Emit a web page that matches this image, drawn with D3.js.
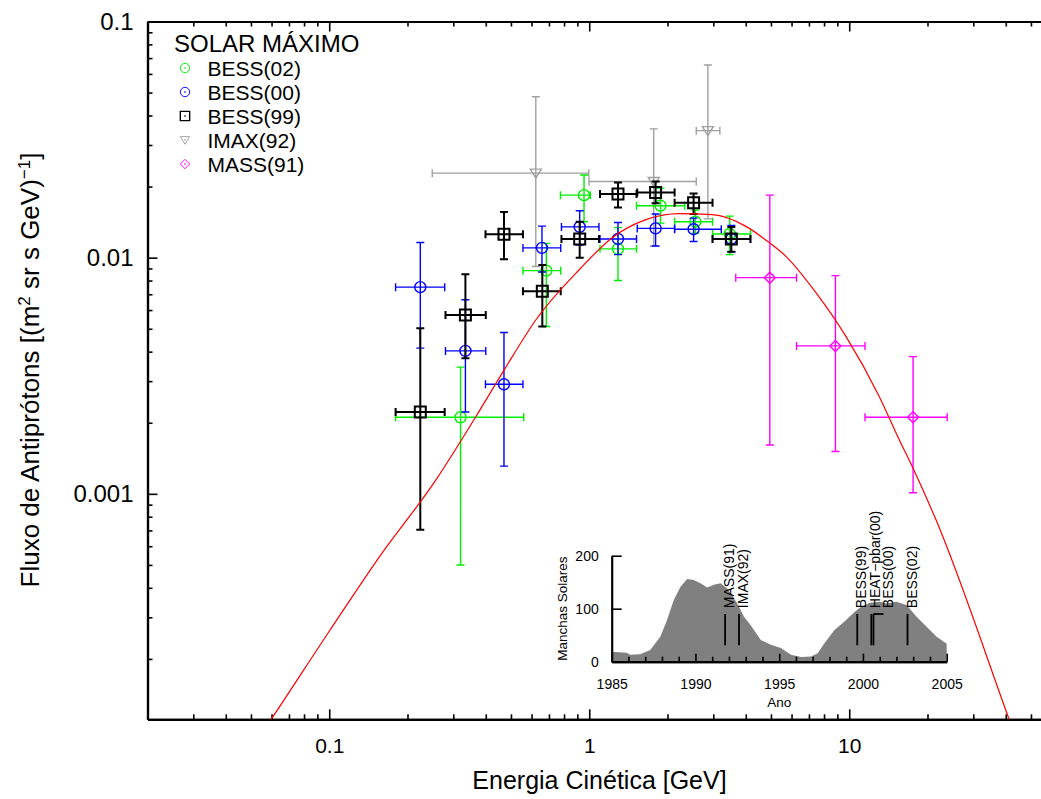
<!DOCTYPE html>
<html><head><meta charset="utf-8">
<script src="https://cdn.jsdelivr.net/npm/d3@7"></script>
<style>
body{margin:0;background:#fff}
text{font-family:"Liberation Sans",Arial,Helvetica,sans-serif;fill:#000}
</style>
</head><body>
<svg id="c" width="1041" height="799" xmlns="http://www.w3.org/2000/svg"></svg>
<script>
// ---------- DATA ----------
// each row: [energy, flux, energyLow, energyHigh, fluxLow, fluxHigh]
const bess02 = [
  [0.32, 0.00211, 0.18, 0.56, 0.0005, 0.00344],
  [0.684, 0.00881, 0.556, 0.777, 0.00511, 0.0115],
  [0.955, 0.0184, 0.775, 1.01, 0.0142, 0.0224],
  [1.29, 0.0109, 1.10, 1.52, 0.0080, 0.0134],
  [1.88, 0.0166, 1.52, 2.33, 0.0140, 0.0197],
  [2.56, 0.0142, 2.13, 2.98, 0.0127, 0.0159],
  [3.47, 0.0126, 2.98, 4.17, 0.0103, 0.0150]
];
const bess00 = [
  [0.224, 0.0075, 0.180, 0.278, 0.00414, 0.0116],
  [0.334, 0.00403, 0.280, 0.400, 0.00222, 0.00663],
  [0.470, 0.00291, 0.399, 0.556, 0.00131, 0.00482],
  [0.658, 0.0110, 0.556, 0.777, 0.0087, 0.0136],
  [0.919, 0.0135, 0.782, 1.09, 0.0113, 0.0158],
  [1.29, 0.0120, 1.10, 1.52, 0.0103, 0.0141],
  [1.80, 0.0133, 1.53, 2.13, 0.0112, 0.0153],
  [2.52, 0.0132, 2.13, 3.22, 0.0117, 0.0147],
  [3.52, 0.0120, 2.98, 4.17, 0.0106, 0.0137]
];
const bess99 = [
  [0.224, 0.00222, 0.180, 0.278, 0.000704, 0.00503],
  [0.334, 0.00572, 0.280, 0.400, 0.00375, 0.00851],
  [0.470, 0.01257, 0.399, 0.556, 0.00985, 0.0156],
  [0.660, 0.0072, 0.556, 0.777, 0.00511, 0.00932],
  [0.919, 0.0120, 0.782, 1.09, 0.0100, 0.0142],
  [1.29, 0.0186, 1.10, 1.52, 0.0163, 0.0208],
  [1.80, 0.0189, 1.53, 2.13, 0.0170, 0.0210],
  [2.52, 0.0171, 2.13, 2.98, 0.0153, 0.0187],
  [3.52, 0.0120, 2.98, 4.17, 0.0106, 0.0135]
];
const imax92 = [
  [0.623, 0.0228, 0.249, 0.996, 0.00917, 0.048],
  [1.77, 0.021, 0.998, 2.58, 0.0112, 0.0351],
  [2.86, 0.0345, 2.58, 3.18, 0.0146, 0.0654]
];
const mass91 = [
  [4.95, 0.00823, 3.66, 6.27, 0.00161, 0.0184],
  [8.85, 0.00423, 6.27, 11.5, 0.00151, 0.00839],
  [17.6, 0.00211, 11.5, 23.8, 0.00101, 0.00381]
];
// model curve
const curveEnergy = [0.05, 0.0598, 0.1, 0.1557, 0.2573, 0.3666, 0.471, 0.624, 0.915, 1.226, 1.652, 2.218, 2.972, 4.006, 4.923, 5.707, 7.446, 9.712, 13.04, 15.57, 17.47, 21.56, 41.2, 45];
const curveFlux   = [8.3e-5, 1.11e-4, 2.62e-4, 5.4e-4, 1.146e-3, 2.126e-3, 3.35e-3, 5.46e-3, 8.89e-3, 0.01215, 0.01449, 0.01536, 0.0152, 0.01357, 0.01158, 0.01013, 7.11e-3, 4.64e-3, 2.584e-3, 1.694e-3, 1.305e-3, 7.76e-4, 1.11e-4, 8.5e-5];
// axis ticks
const xMajorTicks = [0.1, 1, 10];
const yMajorTicks = [0.1, 0.01, 0.001];
const legendTitle = "SOLAR MÁXIMO";
const legendLabels = ["BESS(02)", "BESS(00)", "BESS(99)", "IMAX(92)", "MASS(91)"];
// inset: sunspot numbers
const ssYears  = [1985.0,1985.9,1986.1,1986.7,1987.3,1987.9,1988.3,1988.7,1989.1,1989.5,1989.9,1990.3,1990.7,1991.1,1991.5,1991.9,1992.5,1992.9,1993.3,1993.9,1994.5,1995.1,1995.7,1996.3,1996.9,1997.3,1997.7,1998.3,1998.9,1999.4,1999.8,2000.4,2001.0,2001.4,2002.0,2002.6,2003.2,2003.8,2004.4,2005.0];
const ssValues = [19,17,13,14,22,47,78,116,141,156,154,148,140,145,148,138,110,85,69,41,32,26,13,9,10,16,35,60,76,91,102,111,113,110,113,107,85,66,47,34];
const flightNames = ["MASS(91)", "IMAX(92)", "BESS(99)", "HEAT\u2212pbar(00)", "BESS(00)", "BESS(02)"];
const flightYears = [1991.77, 1992.6, 1999.66, 2000.5, 2000.63, 2002.66];
const flightLabelYears = [1991.77, 1992.6, 1999.66, 2000.5, 2001.23, 2002.66];
const insetYearTicks = [1985, 1990, 1995, 2000, 2005];
const insetValueTicks = [0, 100, 200];

// ---------- SCALES ----------
const svg = d3.select("#c");
const L = 147.5, T = 21.5, B = 719.3, DEC = 260;
const x = d3.scaleLog().domain([0.02, 60]).range([L, L + DEC * Math.log10(3000)]);
const y = d3.scaleLog().domain([1.11e-4, 0.1]).range([B, T]);

svg.append("defs").append("clipPath").attr("id", "plotclip")
  .append("rect").attr("x", L).attr("y", T).attr("width", 1100).attr("height", B - T);

// ---------- AXES ----------
const minorX = x.ticks().filter(v => !xMajorTicks.some(m => Math.abs(m - v) < 1e-9));
const minorY = y.ticks().filter(v => !yMajorTicks.some(m => Math.abs(m - v) / m < 1e-6));

function styleAxis(g, fs) {
  g.select(".domain").attr("stroke", "#000").attr("stroke-width", 2.2);
  g.selectAll(".tick line").attr("stroke", "#000").attr("stroke-width", 1.6);
  g.selectAll(".tick text").style("font-size", fs + "px").attr("fill", "#000");
  g.attr("font-family", null).attr("font-size", null);
}
// bottom
svg.append("g").attr("transform", `translate(0,${B})`)
  .call(d3.axisBottom(x).tickValues(minorX).tickSize(-5).tickSizeOuter(0).tickFormat(""))
  .call(g => styleAxis(g, 20));
svg.append("g").attr("transform", `translate(0,${B})`)
  .call(d3.axisBottom(x).tickValues(xMajorTicks).tickSize(-10).tickSizeOuter(0).tickPadding(19).tickFormat(d3.format("~g")))
  .call(g => styleAxis(g, 21));
// top
svg.append("g").attr("transform", `translate(0,${T})`)
  .call(d3.axisTop(x).tickValues(minorX).tickSize(-5).tickSizeOuter(0).tickFormat(""))
  .call(g => styleAxis(g, 20));
svg.append("g").attr("transform", `translate(0,${T})`)
  .call(d3.axisTop(x).tickValues(xMajorTicks).tickSize(-10).tickSizeOuter(0).tickFormat(""))
  .call(g => styleAxis(g, 20));
// left
svg.append("g").attr("transform", `translate(${L},0)`)
  .call(d3.axisLeft(y).tickValues(minorY).tickSize(-5).tickSizeOuter(0).tickFormat(""))
  .call(g => styleAxis(g, 20));
svg.append("g").attr("transform", `translate(${L},0)`)
  .call(d3.axisLeft(y).tickValues(yMajorTicks).tickSize(-10).tickSizeOuter(0).tickPadding(14).tickFormat(d3.format("~g")))
  .call(g => styleAxis(g, 24));

// axis titles
svg.append("text").attr("x", 599.5).attr("y", 789).attr("text-anchor", "middle")
  .style("font-size", "25px").text("Energia Cinética [GeV]");
const yl = svg.append("text").attr("transform", "translate(39,370) rotate(-90)")
  .attr("text-anchor", "middle").style("font-size", "26px");
yl.append("tspan").text("Fluxo de Antiprótons [(m");
yl.append("tspan").attr("dy", -9).style("font-size", "17px").text("2");
yl.append("tspan").attr("dy", 9).text(" sr s GeV)");
yl.append("tspan").attr("dy", -9).style("font-size", "17px").text("\u22121");
yl.append("tspan").attr("dy", 9).text("]");

// ---------- INSET ----------
const yr = d3.scaleLinear().domain([1985, 2005]).range([611.7, 946.7]);
const ss = d3.scaleLinear().domain([0, 200]).range([661.7, 555.7]);
const inset = svg.append("g");
inset.append("path")
  .attr("d", d3.area().x((d, i) => yr(ssYears[i])).y0(ss(0)).y1((d, i) => ss(ssValues[i]))(ssValues))
  .attr("fill", "#808080");
const iyMinor = d3.range(1986, 2005).filter(v => v % 5 !== 0);
inset.append("g").attr("transform", `translate(0,${ss(0)})`)
  .call(d3.axisBottom(yr).tickValues(iyMinor).tickSize(-5).tickSizeOuter(0).tickFormat(""))
  .call(g => styleAxis(g, 13));
inset.append("g").attr("transform", `translate(0,${ss(0)})`)
  .call(d3.axisBottom(yr).tickValues(insetYearTicks).tickSize(-8).tickSizeOuter(0).tickPadding(17).tickFormat(d3.format("d")))
  .call(g => styleAxis(g, 14));
inset.append("g").attr("transform", `translate(${yr(1985)},0)`)
  .call(d3.axisLeft(ss).tickValues(insetValueTicks).tickSize(-10).tickSizeOuter(0).tickPadding(13).tickFormat(d3.format("d")))
  .call(g => styleAxis(g, 14));
inset.append("text").attr("x", yr(1995)).attr("y", 707).attr("text-anchor", "middle")
  .style("font-size", "13.5px").text("Ano");
inset.append("text").attr("transform", `translate(567,${ss(100)}) rotate(-90)`)
  .attr("text-anchor", "middle").style("font-size", "13.5px").text("Manchas Solares");
flightYears.forEach((yv, i) => {
  inset.append("line").attr("x1", yr(yv)).attr("x2", yr(yv)).attr("y1", ss(31)).attr("y2", ss(90))
    .attr("stroke", "#000").attr("stroke-width", 1.8);
  if (flightLabelYears[i] !== yv) {
    inset.append("line").attr("x1", yr(yv)).attr("x2", yr(flightLabelYears[i])).attr("y1", ss(90)).attr("y2", ss(90))
      .attr("stroke", "#000").attr("stroke-width", 1.8);
  }
  inset.append("text").attr("transform", `translate(${yr(flightLabelYears[i]) + 9},${ss(101)}) rotate(-90)`)
    .style("font-size", "14px").text(flightNames[i]);
});

// ---------- DATA SERIES ----------
const plot = svg.append("g").attr("clip-path", "url(#plotclip)");
const shapes = {
  circle: "M5.5,0A5.5,5.5 0 1,1 -5.5,0A5.5,5.5 0 1,1 5.5,0Z",
  square: "M-5.5,-5.5H5.5V5.5H-5.5Z",
  tri: "M-5.5,-4L5.5,-4L0,5Z",
  diamond: "M0,-5.5L5.5,0L0,5.5L-5.5,0Z"
};
const series = [
  {data: imax92, color: "#a0a0a0", w: 1.4, shape: "tri"},
  {data: bess02, color: "#00ee00", w: 1.4, shape: "circle"},
  {data: bess00, color: "#0000ff", w: 1.4, shape: "circle"},
  {data: bess99, color: "#000000", w: 2.0, shape: "square"},
  {data: mass91, color: "#ff00ff", w: 1.4, shape: "diamond"}
];
const cap = 4;
series.forEach(s => {
  const g = plot.append("g").attr("stroke", s.color).attr("stroke-width", s.w).attr("fill", "none");
  s.data.forEach(d => {
    const cx = x(d[0]), cy = y(d[1]);
    const x0 = x(d[2]), x1 = x(d[3]), y0 = y(d[4]), y1 = y(d[5]);
    const p = `M${x0},${cy}H${x1}M${x0},${cy - cap}V${cy + cap}M${x1},${cy - cap}V${cy + cap}` +
              `M${cx},${y0}V${y1}M${cx - cap},${y0}H${cx + cap}M${cx - cap},${y1}H${cx + cap}`;
    g.append("path").attr("d", p);
    g.append("path").attr("d", shapes[s.shape]).attr("transform", `translate(${cx},${cy})`);
  });
});
// model curve
plot.append("path")
  .attr("d", d3.line().x((d, i) => x(curveEnergy[i])).y((d, i) => y(curveFlux[i])).curve(d3.curveMonotoneX)(curveFlux))
  .attr("fill", "none").attr("stroke", "#ff0000").attr("stroke-width", 1.2);

// ---------- LEGEND ----------
svg.append("text").attr("x", 174).attr("y", 52).style("font-size", "24px").text(legendTitle);
const legendOrder = [1, 2, 3, 0, 4];
legendLabels.forEach((lab, i) => {
  const s = series[legendOrder[i]];
  const cy = 68 + 24 * i;
  svg.append("path").attr("d", shapes[s.shape]).attr("transform", `translate(185,${cy}) scale(0.85)`)
    .attr("fill", "none").attr("stroke", s.color).attr("stroke-width", s.w * 0.8);
  svg.append("rect").attr("x", 184.3).attr("y", cy - 0.7).attr("width", 1.4).attr("height", 1.4).attr("fill", s.color);
  svg.append("text").attr("x", 207.5).attr("y", cy + 8).style("font-size", "21px").text(lab);
});
</script>
</body></html>
